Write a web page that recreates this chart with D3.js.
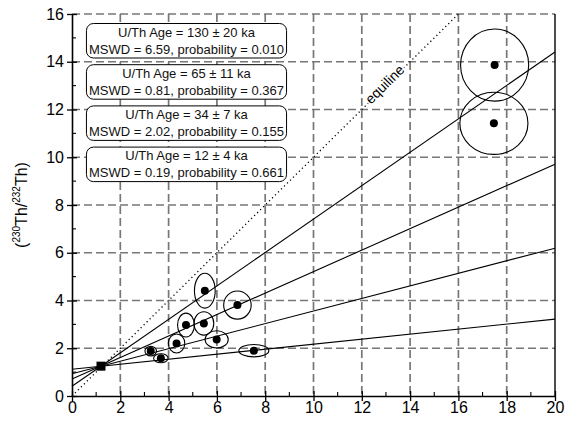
<!DOCTYPE html>
<html>
<head>
<meta charset="utf-8">
<script src="https://cdn.jsdelivr.net/npm/d3@7"></script>
<style>
  html, body { margin: 0; padding: 0; background: #fff; }
  svg { display: block; font-family: "Liberation Sans", Arial, sans-serif; }
</style>
</head>
<body>
<svg id="chart" width="570" height="423"></svg>
<script>
// Axis ticks
const xTicks = [0, 2, 4, 6, 8, 10, 12, 14, 16, 18, 20];
const yTicks = [0, 2, 4, 6, 8, 10, 12, 14, 16];
const xMinor = [1, 3, 5, 7, 9, 11, 13, 15, 17, 19];
const yMinor = [1, 3, 5, 7, 9, 11, 13, 15];

// Samples: (238U/232Th) on x, (230Th/232Th) on y, with 2-sigma half-widths
const sampleX  = [3.26, 3.68, 4.33, 4.72, 5.46, 5.50, 6.85, 5.99, 7.53, 17.50, 17.47];
const sampleY  = [1.88, 1.58, 2.20, 2.97, 3.04, 4.41, 3.81, 2.37, 1.90, 13.86, 11.42];
const sampleSX = [0.24, 0.30, 0.34, 0.35, 0.41, 0.43, 0.57, 0.48, 0.62, 1.41, 1.41];
const sampleSY = [0.20, 0.19, 0.40, 0.50, 0.49, 0.73, 0.59, 0.36, 0.26, 1.51, 1.30];

// Detrital anchor
const anchor = [1.2, 1.25];

// Isochrons: intercept + slope * x
const isoIntercept = [0.41, 0.71, 0.93, 1.12];
const isoSlope     = [0.70, 0.45, 0.263, 0.105];
const isoAge   = ["130 ± 20", "65 ± 11", "34 ± 7", "12 ± 4"];
const isoMSWD  = ["6.59", "0.81", "2.02", "0.19"];
const isoProb  = ["0.010", "0.367", "0.155", "0.661"];

const svg = d3.select("#chart");
const x = d3.scaleLinear().domain([0, 20]).range([72, 555]);
const y = d3.scaleLinear().domain([0, 16]).range([396, 14]);

// Dashed grid
const grid = svg.append("g")
  .attr("stroke", "#777").attr("stroke-width", 1.7)
  .attr("stroke-dasharray", "8,4").attr("fill", "none");
grid.selectAll(".gy").data(yTicks.filter(d => d > 0)).join("line")
  .attr("x1", x(0)).attr("x2", x(20))
  .attr("y1", d => y(d)).attr("y2", d => y(d));
grid.selectAll(".gx").data(xTicks.filter(d => d > 0 && d < 20)).join("line")
  .attr("x1", d => x(d)).attr("x2", d => x(d))
  .attr("y1", y(16)).attr("y2", y(0));

// Equiline
const eq = svg.append("g");
eq.append("line")
  .attr("x1", x(0)).attr("y1", y(0)).attr("x2", x(16)).attr("y2", y(16))
  .attr("stroke", "#000").attr("stroke-width", 1.3)
  .attr("stroke-dasharray", "1.2,3");
const ang = Math.atan2(y(1) - y(0), x(1) - x(0)) * 180 / Math.PI;
const eqLab = eq.append("g")
  .attr("transform", `translate(${x(13.0)},${y(13.0)}) rotate(${ang}) translate(0,-2)`);
const eqText = eqLab.append("text")
  .attr("text-anchor", "middle").attr("dominant-baseline", "central")
  .attr("font-size", 14).attr("fill", "#000").text("equiline");
const eb = eqText.node().getBBox();
eqLab.insert("rect", "text")
  .attr("x", eb.x - 1).attr("y", eb.y + 2).attr("width", eb.width + 2).attr("height", eb.height - 3)
  .attr("fill", "#fff");

// Isochron lines
svg.append("g").selectAll("line").data(isoSlope).join("line")
  .attr("x1", x(0)).attr("y1", (d, i) => y(isoIntercept[i]))
  .attr("x2", x(20)).attr("y2", (d, i) => y(isoIntercept[i] + d * 20))
  .attr("stroke", "#000").attr("stroke-width", 1.1);

// Error ellipses and sample points
const pts = svg.append("g");
pts.selectAll("ellipse").data(sampleX).join("ellipse")
  .attr("cx", d => x(d)).attr("cy", (d, i) => y(sampleY[i]))
  .attr("rx", (d, i) => x(sampleSX[i]) - x(0))
  .attr("ry", (d, i) => y(0) - y(sampleSY[i]))
  .attr("fill", "none").attr("stroke", "#000").attr("stroke-width", 1.1);
pts.selectAll("circle").data(sampleX).join("circle")
  .attr("cx", d => x(d)).attr("cy", (d, i) => y(sampleY[i]))
  .attr("r", 4).attr("fill", "#000");

// Anchor square
svg.append("rect")
  .attr("x", x(anchor[0]) - 4.5).attr("y", y(anchor[1]) - 4.5)
  .attr("width", 9).attr("height", 9).attr("fill", "#000");

// Age boxes
const boxes = svg.append("g");
isoAge.forEach((age, i) => {
  const top = 23.5 + i * 41.2;
  const g = boxes.append("g");
  const cx = 186.5;
  const t1 = g.append("text").attr("x", cx).attr("y", top + 13)
    .attr("text-anchor", "middle").attr("font-size", 13).attr("fill", "#111")
    .text(`U/Th Age = ${age} ka`);
  const t2 = g.append("text").attr("x", cx).attr("y", top + 30)
    .attr("text-anchor", "middle").attr("font-size", 13).attr("fill", "#111")
    .text(`MSWD = ${isoMSWD[i]}, probability = ${isoProb[i]}`);
  const w = Math.max(t1.node().getBBox().width, t2.node().getBBox().width) + 5;
  g.insert("rect", "text")
    .attr("x", cx - w / 2).attr("y", top).attr("width", w).attr("height", 34.5)
    .attr("rx", 7).attr("ry", 7)
    .attr("fill", "#fff").attr("stroke", "#000").attr("stroke-width", 1);
});

// Axes
const xAxis = svg.append("g").attr("transform", `translate(0,${y(0)})`)
  .call(d3.axisBottom(x).tickValues(xTicks).tickSizeInner(5).tickSizeOuter(0).tickPadding(1));
const yAxis = svg.append("g").attr("transform", `translate(${x(0)},0)`)
  .call(d3.axisLeft(y).tickValues(yTicks).tickSizeInner(5).tickSizeOuter(0).tickPadding(3));
[xAxis, yAxis].forEach(a => {
  a.select(".domain").attr("stroke", "#000").attr("stroke-width", 1.6);
  a.selectAll(".tick line").attr("stroke", "#000").attr("stroke-width", 1.3);
  a.selectAll(".tick text").attr("font-size", 16).attr("fill", "#000")
    .attr("font-family", "Liberation Sans, Arial, sans-serif");
});
// Major ticks also poke inward a little
xAxis.selectAll(".tick line").attr("y1", -5);
yAxis.selectAll(".tick line").attr("x1", 5).attr("x2", -5);

// Minor inward ticks
svg.append("g").selectAll("line").data(xMinor).join("line")
  .attr("x1", d => x(d)).attr("x2", d => x(d))
  .attr("y1", y(0)).attr("y2", y(0) - 4)
  .attr("stroke", "#000").attr("stroke-width", 1.1);
svg.append("g").selectAll("line").data(yMinor).join("line")
  .attr("x1", x(0)).attr("x2", x(0) + 4)
  .attr("y1", d => y(d)).attr("y2", d => y(d))
  .attr("stroke", "#000").attr("stroke-width", 1.1);

// Right frame
svg.append("line")
  .attr("x1", x(20)).attr("x2", x(20)).attr("y1", y(16)).attr("y2", y(0))
  .attr("stroke", "#000").attr("stroke-width", 1.4);

// Y axis title
const yt = svg.append("text")
  .attr("transform", `translate(27,205) rotate(-90)`)
  .attr("text-anchor", "middle").attr("font-size", 16).attr("fill", "#000");
yt.append("tspan").text("(");
yt.append("tspan").attr("font-size", 10).attr("dy", -7).text("230");
yt.append("tspan").attr("dy", 7).text("Th/");
yt.append("tspan").attr("font-size", 10).attr("dy", -7).text("232");
yt.append("tspan").attr("dy", 7).text("Th)");
</script>
</body>
</html>
